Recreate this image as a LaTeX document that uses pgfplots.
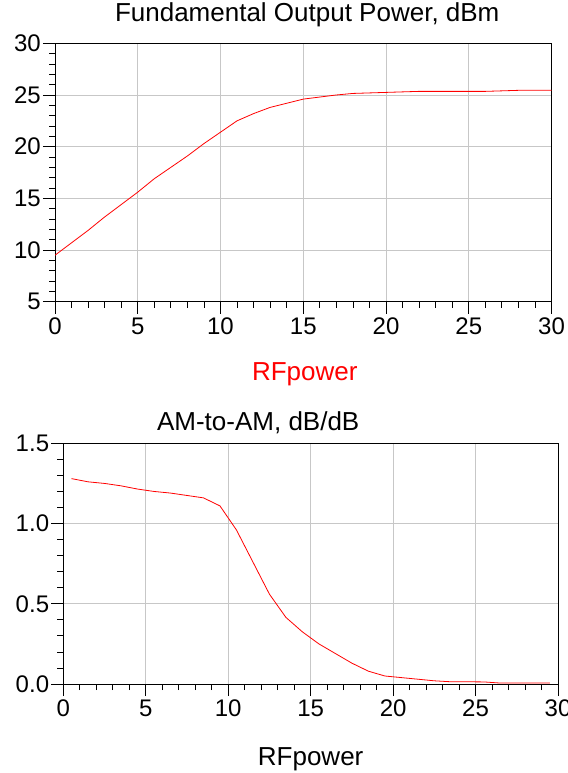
\documentclass[border=0pt]{standalone}
\usepackage{fontspec}
\setmainfont{Liberation Sans}
\usepackage{pgfplots}
\pgfplotsset{compat=1.18}
\pgfplotsset{rfstyle/.style={
  scale only axis,
  xmin=0, xmax=30,
  xtick={0,5,...,30},
  tick pos=left, tick align=outside,
  major tick length=12bp, minor tick length=6bp,
  minor x tick num=4, minor y tick num=4,
  grid=major,
  major grid style={draw=black!22, line width=0.9bp},
  every tick/.style={black, line width=0.8bp},
  axis line style={black, line width=0.8bp},
  /pgf/number format/assume math mode=true,
  tick label style={font=\fontsize{24bp}{28bp}\selectfont},
  yticklabel style={inner sep=2bp},
  xticklabel style={inner sep=4bp},
  title style={font=\fontsize{26bp}{30bp}\selectfont, anchor=base, inner sep=0pt},
  xlabel style={font=\fontsize{26bp}{30bp}\selectfont, anchor=base, inner sep=0pt},
}}
\begin{document}
\begin{tikzpicture}[x=1bp,y=1bp]
\useasboundingbox (0,0) rectangle (568,-773);
% top chart
\begin{axis}[rfstyle,
  at={(55bp,-301.7bp)}, anchor=south west,
  width=496.5bp, height=258.4bp,
  ymin=5, ymax=30, ytick={5,10,...,30},
  title={Fundamental Output Power, dBm},
  title style={at={(axis description cs:0.508,1)}, yshift=16bp},
  xlabel={RFpower},
  xlabel style={at={(axis description cs:0.503,0)}, yshift=-78.3bp, text=red},
]
\addplot[red, line width=0.8bp] coordinates {
(0,9.5) (1,10.7) (2,11.9) (3,13.2) (4,14.4) (5,15.6) (6,16.9) (7,18.0)
(8,19.1) (9,20.3) (10,21.4) (11,22.5) (12,23.2) (13,23.8) (14,24.2)
(15,24.6) (16,24.8) (17,25.0) (18,25.15) (19,25.2) (20,25.25) (21,25.3)
(22,25.35) (23,25.35) (24,25.35) (25,25.35) (26,25.35) (27,25.4)
(28,25.45) (29,25.45) (30,25.45)
};
\end{axis}
% bottom chart
\begin{axis}[rfstyle,
  at={(63.3bp,-684bp)}, anchor=south west,
  width=494.7bp, height=240.7bp,
  ymin=0, ymax=1.5, ytick={0,0.5,1,1.5},
  yticklabel style={/pgf/number format/.cd, fixed, fixed zerofill, precision=1},
  title={AM-to-AM, dB/dB},
  title style={at={(axis description cs:0.394,1)}, yshift=6.6bp},
  xlabel={RFpower},
  xlabel style={at={(axis description cs:0.5,0)}, yshift=-81bp},
]
\addplot[red, line width=0.8bp] coordinates {
(0.5,1.28) (1.5,1.26) (2.5,1.25) (3.5,1.235) (4.5,1.215) (5.5,1.20)
(6.5,1.19) (7.5,1.175) (8.5,1.16) (9.5,1.11) (10.5,0.96) (11.5,0.76)
(12.5,0.56) (13.5,0.415) (14.5,0.325) (15.5,0.25) (16.5,0.19) (17.5,0.13)
(18.5,0.08) (19.5,0.05) (20.5,0.04) (21.5,0.03) (22.5,0.02) (23.5,0.014)
(24.5,0.014) (25.5,0.013) (26.5,0.006) (27.5,0.006) (28.5,0.006) (29.5,0.006)
};
\end{axis}
\end{tikzpicture}
\end{document}
